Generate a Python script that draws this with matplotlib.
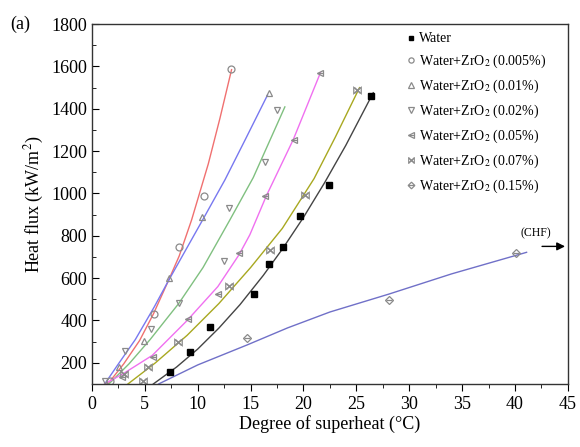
import matplotlib
matplotlib.use("Agg")
import matplotlib.pyplot as plt
from matplotlib.legend_handler import HandlerTuple
from matplotlib.ticker import MultipleLocator

plt.rcParams["font.family"] = ["Liberation Serif", "DejaVu Serif"]
plt.rcParams["mathtext.fontset"] = "stix"

# measured points (superheat degC, heat flux kW/m2)
water_x = [7.37, 9.26, 11.15, 15.3, 16.76, 18.1, 19.66, 22.4, 26.35]
water_y = [155, 249, 370, 527, 669, 748, 893, 1040, 1462]
zr005_x = [1.7, 5.85, 8.25, 10.6, 13.1]
zr005_y = [112, 432, 745, 988, 1586]
zr01_x = [2.55, 4.95, 7.28, 10.4, 16.7]
zr01_y = [180, 305, 603, 887, 1473]
zr02_x = [1.25, 3.15, 5.58, 8.25, 12.5, 13.0, 16.4, 17.45]
zr02_y = [115, 256, 362, 482, 680, 930, 1150, 1393]
zr05_x = [2.87, 5.73, 9.04, 11.9, 13.9, 16.35, 19.1, 21.6]
zr05_y = [131, 229, 408, 525, 717, 988, 1254, 1571]
zr07_x = [3.05, 4.85, 5.32, 8.16, 12.98, 16.85, 20.15, 25.1]
zr07_y = [145, 112, 178, 297, 562, 732, 993, 1488]
zr15_x = [14.7, 28.1, 40.1]
zr15_y = [318, 496, 721]

# fitted curves
fit_water_x = [5.8, 8, 10, 12, 14, 16.2, 18, 20, 22, 24, 26.6]
fit_water_y = [100, 180, 265, 364, 475, 613, 737, 887, 1051, 1227, 1476]
fit_005_x = [1.5, 3, 4.5, 5.8, 7.2, 8.25, 9.42, 11, 12.1, 13.2]
fit_005_y = [100, 195, 305, 430, 585, 705, 875, 1140, 1355, 1585]
fit_01_x = [1.2, 2.5, 4.1, 5.9, 7.2, 9, 10.52, 12.57, 14.5, 16.6]
fit_01_y = [100, 195, 310, 465, 585, 745, 880, 1064, 1255, 1465]
fit_02_x = [1.6, 3.5, 5.5, 8.2, 10.5, 13.04, 15.25, 18.24]
fit_02_y = [100, 195, 310, 480, 650, 875, 1075, 1409]
fit_05_x = [1.2, 3, 5.7, 9, 11.9, 13.9, 14.93, 16.5, 19.03, 21.6]
fit_05_y = [100, 150, 235, 400, 560, 710, 805, 990, 1254, 1570]
fit_07_x = [3.4, 6, 9, 12, 15, 18, 21, 23, 25.3]
fit_07_y = [100, 200, 330, 480, 650, 835, 1070, 1265, 1500]
fit_15_x = [6.3, 10, 14.7, 18.5, 22.5, 28.1, 34, 41.1]
fit_15_y = [100, 190, 285, 365, 440, 525, 620, 722]

labels = ["Water",
          r"Water+ZrO$_2$ (0.005%)",
          r"Water+ZrO$_2$ (0.01%)",
          r"Water+ZrO$_2$ (0.02%)",
          r"Water+ZrO$_2$ (0.05%)",
          r"Water+ZrO$_2$ (0.07%)",
          r"Water+ZrO$_2$ (0.15%)"]

fig = plt.figure(figsize=(5.8, 4.47), dpi=100)
ax = fig.add_axes([0.1586, 0.141, 0.8204, 0.805])

grey = "#8a8a8a"

# fit lines
ax.plot(fit_water_x, fit_water_y, color="#444444", lw=1.0)
ax.plot(fit_005_x, fit_005_y, color="#f07070", lw=1.0)
ax.plot(fit_01_x, fit_01_y, color="#7878f0", lw=1.0)
ax.plot(fit_02_x, fit_02_y, color="#80c080", lw=1.0)
ax.plot(fit_05_x, fit_05_y, color="#f070f0", lw=1.0)
ax.plot(fit_07_x, fit_07_y, color="#a8a820", lw=1.0)
ax.plot(fit_15_x, fit_15_y, color="#7070c8", lw=1.0)

ms = 5
kw = dict(ls="none", markerfacecolor="none", markeredgecolor=grey, markeredgewidth=0.9, ms=ms)
h0 = ax.plot(water_x, water_y, ls="none", marker="s", color="black", ms=4.2)[0]
h1 = ax.plot(zr005_x, zr005_y, marker="o", **kw)[0]
h2 = ax.plot(zr01_x, zr01_y, marker="^", **kw)[0]
h3 = ax.plot(zr02_x, zr02_y, marker="v", **kw)[0]
h4a = ax.plot(zr05_x, zr05_y, marker="<", **kw)[0]
h4b = ax.plot(zr05_x, zr05_y, marker="_", **kw)[0]
h5a = ax.plot(zr07_x, zr07_y, marker="x", **kw)[0]
h5b = ax.plot(zr07_x, zr07_y, marker=r"$\bowtie$", ls="none", color=grey, ms=ms + 1, markeredgewidth=0.3)[0]
h6a = ax.plot(zr15_x, zr15_y, marker="D", **dict(kw, ms=4.5))[0]
h6b = ax.plot(zr15_x, zr15_y, marker="_", **kw)[0]

ax.legend([h0, h1, h2, h3, (h4a, h4b), (h5a, h5b), (h6a, h6b)], labels,
          handler_map={tuple: HandlerTuple(ndivide=1)},
          loc="upper left", bbox_to_anchor=(0.645, 1.0), frameon=False,
          fontsize=10, handlelength=0.5, handletextpad=0.35,
          labelspacing=0.55, markerscale=0.75, borderaxespad=0.2)

ax.annotate("", xy=(45, 750), xytext=(42.3, 750),
            arrowprops=dict(arrowstyle="-|>", color="black", lw=1.0, mutation_scale=12))
ax.text(42.0, 785, "(CHF)", fontsize=8.5, ha="center", va="bottom")

ax.set_xlim(0, 45)
ax.set_ylim(100, 1800)
ax.xaxis.set_major_locator(MultipleLocator(5))
ax.xaxis.set_minor_locator(MultipleLocator(2.5))
ax.yaxis.set_minor_locator(MultipleLocator(100))
ax.set_yticks([200, 400, 600, 800, 1000, 1200, 1400, 1600, 1800])
ax.tick_params(axis="x", which="both", direction="out", labelsize=13, top=False)
ax.tick_params(axis="y", which="both", direction="in", labelsize=13, right=False)
ax.tick_params(which="major", length=5)
ax.tick_params(which="minor", length=3)
for s in ax.spines.values():
    s.set_color("#333333")
    s.set_linewidth(1.0)

ax.set_xlabel("Degree of superheat (°C)", fontsize=13, labelpad=2)
ax.set_ylabel("Heat flux (kW/m$^2$)", fontsize=13, labelpad=4)
fig.text(0.017, 0.945, "(a)", fontsize=13, va="center")

fig.savefig("out.png", dpi=100)
